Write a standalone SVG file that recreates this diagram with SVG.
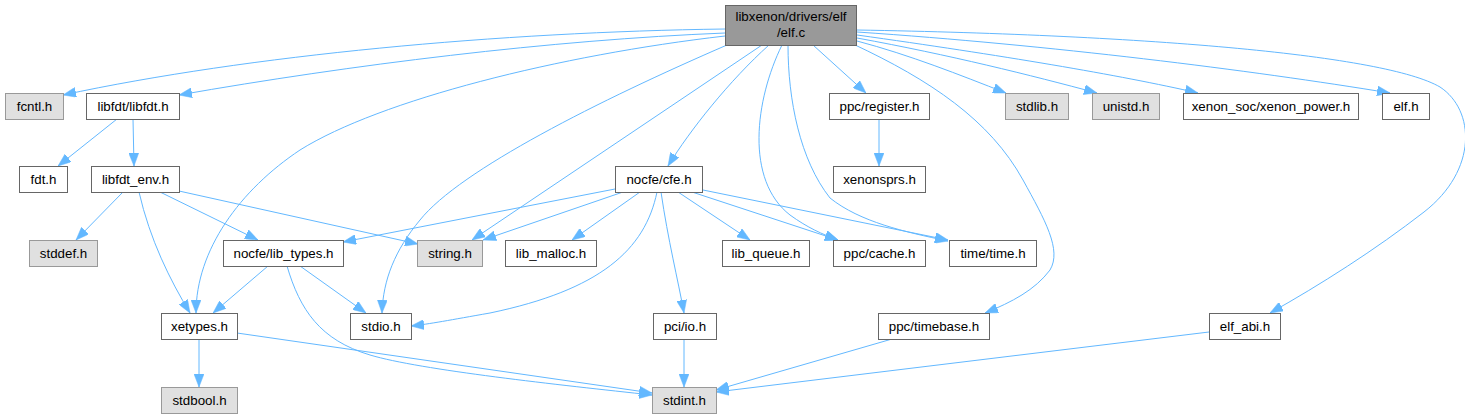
<svg xmlns="http://www.w3.org/2000/svg" width="1465" height="417" viewBox="0 0 1465 417">
<style>
.n rect{fill:#ffffff;stroke:#666666;stroke-width:1}
.g rect{fill:#e0e0e0;stroke:#999999;stroke-width:1}
.r rect{fill:#999999;stroke:#666666;stroke-width:1}
text{font-family:"Liberation Sans",Arial,Helvetica,sans-serif;font-size:13.33px;fill:#000000;text-anchor:middle}
#edges path{fill:none;stroke:#63b8ff;stroke-width:1;marker-end:url(#ah)}
</style>
<defs>
<marker id="ah" viewBox="0 0 13 10" refX="13" refY="5" markerWidth="13" markerHeight="10" markerUnits="userSpaceOnUse" orient="auto">
<path d="M0,0 L13,5 L0,10 Z" fill="#63b8ff" stroke="#63b8ff" stroke-width="0.5"/>
</marker>
</defs>
<rect x="0" y="0" width="1465" height="417" fill="#ffffff"/>
<g id="edges">
<path d="M725,29 C 500,32 250,55 63,95"/>
<path d="M725,33 C 550,40 350,65 179,95"/>
<path d="M725,36 C 560,55 380,100 300,150 C 240,190 196,250 196,313"/>
<path d="M727,45 C 600,100 460,170 420,220 C 395,250 383,280 382,313"/>
<path d="M762,45 L472,240"/>
<path d="M769,45 C 730,80 690,130 668,166"/>
<path d="M782,45 C 755,100 745,180 790,215 C 808,228 822,234 838,240"/>
<path d="M788,45 C 788,100 800,160 830,198 C 860,222 905,232 948,241"/>
<path d="M813,45 L866,93"/>
<path d="M853,44 C 930,80 990,120 1023,180 C 1045,220 1062,250 1050,270 C 1035,290 1012,302 985,313"/>
<path d="M857,41 C 910,55 960,75 1006,93"/>
<path d="M857,38 C 950,55 1030,75 1097,93"/>
<path d="M857,35 C 1000,55 1120,75 1198,93"/>
<path d="M857,32 C 1050,45 1250,70 1390,93"/>
<path d="M857,30 C 1150,35 1385,55 1440,87 C 1475,110 1478,170 1424,212 C 1375,250 1320,285 1270,313"/>
<path d="M879,119 L879,166"/>
<path d="M117,119 L58,166"/>
<path d="M133,119 L134,166"/>
<path d="M123,192 L76,240"/>
<path d="M139,192 C 150,240 170,280 190,313"/>
<path d="M160,192 L258,240"/>
<path d="M179,191 L418,244"/>
<path d="M615,189 L343,242"/>
<path d="M623,192 L483,240"/>
<path d="M640,192 L572,240"/>
<path d="M678,192 L750,240"/>
<path d="M692,192 L838,240"/>
<path d="M703,190 L948,240"/>
<path d="M657,192 C 645,250 600,290 490,313 C 450,320 430,324 411,326"/>
<path d="M661,192 C 668,240 678,280 684,313"/>
<path d="M268,266 L213,313"/>
<path d="M300,266 L366,313"/>
<path d="M287,266 C 300,310 320,340 370,355 C 420,370 560,385 652,395"/>
<path d="M237,333 L652,393"/>
<path d="M199,339 L199,387"/>
<path d="M684,339 L684,387"/>
<path d="M892,339 L716,390"/>
<path d="M1209,332 L716,392"/>
</g>
<g id="node_root" class="r"><rect x="725.5" y="5.5" width="131" height="40"/><text x="791" y="21">libxenon/drivers/elf</text><text x="791" y="37">/elf.c</text></g>
<g id="node_fcntl" class="g"><rect x="5.5" y="93.5" width="58" height="26"/><text x="34.5" y="111">fcntl.h</text></g>
<g id="node_libfdt" class="n"><rect x="86.5" y="93.5" width="93" height="26"/><text x="133" y="111">libfdt/libfdt.h</text></g>
<g id="node_fdt" class="n"><rect x="19.5" y="166.5" width="48" height="26"/><text x="43.5" y="184">fdt.h</text></g>
<g id="node_libfdt_env" class="n"><rect x="91.5" y="166.5" width="88" height="26"/><text x="135.5" y="184">libfdt_env.h</text></g>
<g id="node_stddef" class="g"><rect x="29.5" y="240.5" width="68" height="26"/><text x="63.5" y="258">stddef.h</text></g>
<g id="node_lib_types" class="n"><rect x="223.5" y="240.5" width="120" height="26"/><text x="283.5" y="258">nocfe/lib_types.h</text></g>
<g id="node_string" class="g"><rect x="417.5" y="240.5" width="65" height="26"/><text x="450" y="258">string.h</text></g>
<g id="node_xetypes" class="n"><rect x="161.5" y="313.5" width="76" height="26"/><text x="199.5" y="331">xetypes.h</text></g>
<g id="node_stdio" class="n"><rect x="350.5" y="313.5" width="61" height="26"/><text x="381" y="331">stdio.h</text></g>
<g id="node_stdbool" class="g"><rect x="161.5" y="387.5" width="76" height="26"/><text x="199.5" y="405">stdbool.h</text></g>
<g id="node_cfe" class="n"><rect x="615.5" y="166.5" width="87" height="26"/><text x="659" y="184">nocfe/cfe.h</text></g>
<g id="node_lib_malloc" class="n"><rect x="505.5" y="240.5" width="91" height="26"/><text x="551" y="258">lib_malloc.h</text></g>
<g id="node_lib_queue" class="n"><rect x="722.5" y="240.5" width="87" height="26"/><text x="766" y="258">lib_queue.h</text></g>
<g id="node_cache" class="n"><rect x="833.5" y="240.5" width="92" height="26"/><text x="879.5" y="258">ppc/cache.h</text></g>
<g id="node_time" class="n"><rect x="949.5" y="240.5" width="87" height="26"/><text x="993" y="258">time/time.h</text></g>
<g id="node_pci_io" class="n"><rect x="653.5" y="313.5" width="63" height="26"/><text x="685" y="331">pci/io.h</text></g>
<g id="node_stdint" class="g"><rect x="652.5" y="387.5" width="64" height="26"/><text x="684.5" y="405">stdint.h</text></g>
<g id="node_register" class="n"><rect x="829.5" y="93.5" width="100" height="26"/><text x="879.5" y="111">ppc/register.h</text></g>
<g id="node_xenonsprs" class="n"><rect x="833.5" y="166.5" width="92" height="26"/><text x="879.5" y="184">xenonsprs.h</text></g>
<g id="node_stdlib" class="g"><rect x="1005.5" y="93.5" width="63" height="26"/><text x="1037" y="111">stdlib.h</text></g>
<g id="node_unistd" class="g"><rect x="1092.5" y="93.5" width="67" height="26"/><text x="1126" y="111">unistd.h</text></g>
<g id="node_xenon_power" class="n"><rect x="1183.5" y="93.5" width="175" height="26"/><text x="1271" y="111">xenon_soc/xenon_power.h</text></g>
<g id="node_elf" class="n"><rect x="1382.5" y="93.5" width="47" height="26"/><text x="1406" y="111">elf.h</text></g>
<g id="node_timebase" class="n"><rect x="878.5" y="313.5" width="111" height="26"/><text x="934" y="331">ppc/timebase.h</text></g>
<g id="node_elf_abi" class="n"><rect x="1209.5" y="313.5" width="71" height="26"/><text x="1245" y="331">elf_abi.h</text></g>
</svg>
